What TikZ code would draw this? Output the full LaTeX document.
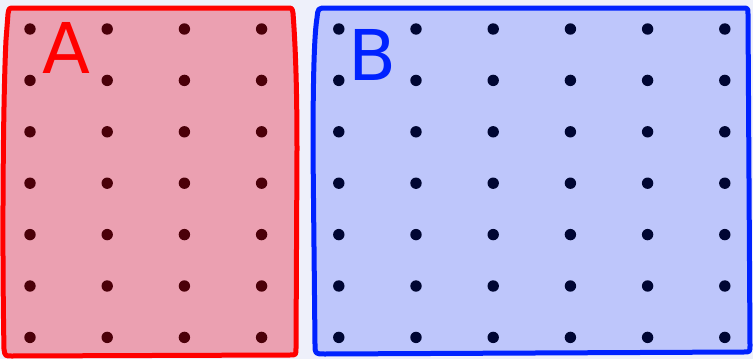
\documentclass[tikz,border=0pt]{standalone}
\usepackage{fontspec}
\setmainfont{DejaVu Sans}
\definecolor{paper}{RGB}{238,240,250}
\definecolor{setred}{RGB}{255,0,0}
\definecolor{setredfill}{RGB}{230,0,30}
\definecolor{setblue}{RGB}{0,34,255}

\begin{document}
\begin{tikzpicture}[x=1pt,y=-1pt,line join=round,line cap=round]
	\tikzstyle{dot}=[fill=black];
	\tikzstyle{setA}=[draw=setred,line width=5pt,fill=setredfill,fill opacity=0.33];
	\tikzstyle{setB}=[draw=setblue,line width=5pt,fill=setblue,fill opacity=0.2];
	\tikzstyle{letter}=[inner sep=0pt,anchor=base west,font=\fontsize{70}{70}\selectfont];
	%% background
	\fill[paper] (0,0) rectangle (753,359);
	\useasboundingbox (0,0) rectangle (753,359);
	%% points
	\foreach \x in {30,107.2,184.4,261.6,338.8,416,493.2,570.4,647.6,724.8} \fill[dot] (\x,29)    circle (5.7);
	\foreach \x in {30,107.2,184.4,261.6,338.8,416,493.2,570.4,647.6,724.8} \fill[dot] (\x,80.4)  circle (5.7);
	\foreach \x in {30,107.2,184.4,261.6,338.8,416,493.2,570.4,647.6,724.8} \fill[dot] (\x,131.8) circle (5.7);
	\foreach \x in {30,107.2,184.4,261.6,338.8,416,493.2,570.4,647.6,724.8} \fill[dot] (\x,183.2) circle (5.7);
	\foreach \x in {30,107.2,184.4,261.6,338.8,416,493.2,570.4,647.6,724.8} \fill[dot] (\x,234.6) circle (5.7);
	\foreach \x in {30,107.2,184.4,261.6,338.8,416,493.2,570.4,647.6,724.8} \fill[dot] (\x,286)   circle (5.7);
	\foreach \x in {30,107.2,184.4,261.6,338.8,416,493.2,570.4,647.6,724.8} \fill[dot] (\x,337.4) circle (5.7);
	%% sets
	\draw[setA] (14,8) -- (287,8) .. controls (292,8) .. (293,13) .. controls (295,40) and (297,80) .. (297,150)
		-- (296,348) .. controls (296,355) .. (290,355) -- (12,356) .. controls (5,356) .. (4,349)
		.. controls (2,250) and (3,100) .. (6,40) -- (8,14) .. controls (9,8) .. (14,8) -- cycle;
	\draw[setB] (327,8) -- (742,8) .. controls (748,8) .. (748,14) -- (750,345) .. controls (750,352) .. (744,352)
		-- (325,354) .. controls (315,354) .. (315,344) -- (313,150) .. controls (313,60) and (315,30) .. (317,18)
		.. controls (318,8) .. (327,8) -- cycle;
	%% labels
	\node[letter,setred]  (labA) at (42,73) {A};
	\node[letter,setblue] (labB) at (348,80) {B};
\end{tikzpicture}
\end{document}
